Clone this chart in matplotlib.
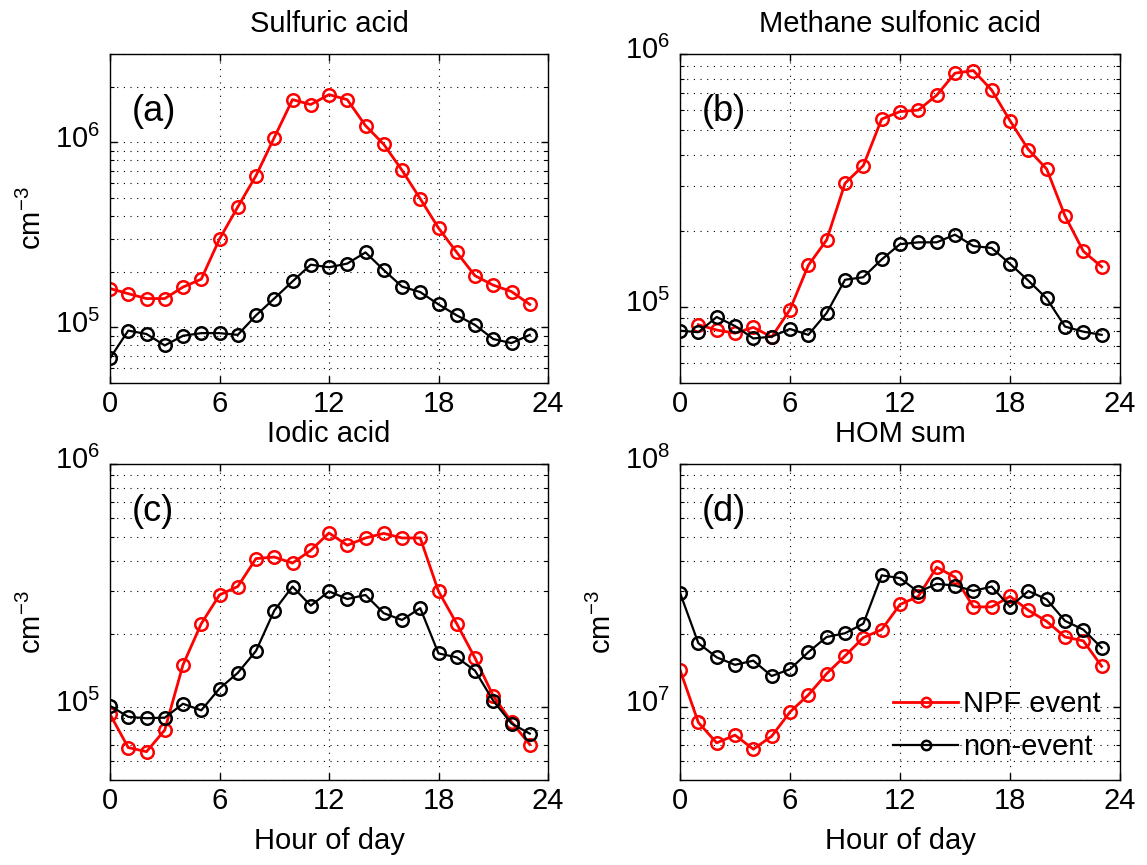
import numpy as np
import matplotlib
matplotlib.use('Agg')
import matplotlib.pyplot as plt
from matplotlib.ticker import LogLocator, NullFormatter
from matplotlib.transforms import ScaledTranslation

plt.rcParams['font.family'] = ['Liberation Sans', 'DejaVu Sans']
plt.rcParams['mathtext.fontset'] = 'custom'
plt.rcParams['mathtext.rm'] = 'Liberation Sans'
plt.rcParams['mathtext.it'] = 'Liberation Sans:italic'
plt.rcParams['mathtext.bf'] = 'Liberation Sans:bold'

# Hour of day
hours = np.arange(24)

# (a) Sulfuric acid
sa_npf = [1.62e5, 1.52e5, 1.43e5, 1.43e5, 1.65e5, 1.82e5, 3.0e5, 4.47e5, 6.6e5, 1.06e6, 1.70e6, 1.60e6,
          1.81e6, 1.70e6, 1.23e6, 9.75e5, 7.06e5, 4.95e5, 3.44e5, 2.54e5, 1.90e5, 1.69e5, 1.56e5, 1.33e5]
sa_non = [6.8e4, 9.6e4, 9.2e4, 7.98e4, 9.0e4, 9.3e4, 9.3e4, 9.1e4, 1.16e5, 1.43e5, 1.77e5, 2.18e5,
          2.11e5, 2.21e5, 2.54e5, 2.04e5, 1.66e5, 1.55e5, 1.33e5, 1.16e5, 1.03e5, 8.64e4, 8.22e4, 9.1e4]

# (b) Methane sulfonic acid
msa_npf = [np.nan, 8.5e4, 8.1e4, 7.87e4, 8.3e4, 7.6e4, 9.76e4, 1.46e5, 1.84e5, 3.08e5, 3.62e5, 5.53e5,
           5.92e5, 6.0e5, 6.87e5, 8.4e5, 8.6e5, 7.2e5, 5.45e5, 4.19e5, 3.51e5, 2.29e5, 1.66e5, 1.44e5]
msa_non = [8.05e4, 7.94e4, 9.12e4, 8.4e4, 7.5e4, 7.63e4, 8.18e4, 7.75e4, 9.46e4, 1.28e5, 1.31e5, 1.54e5,
           1.77e5, 1.80e5, 1.80e5, 1.93e5, 1.74e5, 1.71e5, 1.48e5, 1.27e5, 1.08e5, 8.36e4, 7.98e4, 7.75e4]

# (c) Iodic acid
ia_npf = [9.33e4, 6.8e4, 6.54e4, 8.03e4, 1.49e5, 2.20e5, 2.89e5, 3.13e5, 4.08e5, 4.14e5, 3.91e5, 4.41e5,
          5.2e5, 4.63e5, 4.96e5, 5.18e5, 4.96e5, 4.96e5, 2.99e5, 2.20e5, 1.59e5, 1.11e5, 8.67e4, 7.0e4]
ia_non = [1.01e5, 9.1e4, 8.98e4, 9.03e4, 1.03e5, 9.68e4, 1.19e5, 1.38e5, 1.70e5, 2.49e5, 3.13e5, 2.61e5,
          2.99e5, 2.78e5, 2.89e5, 2.43e5, 2.28e5, 2.55e5, 1.66e5, 1.60e5, 1.41e5, 1.06e5, 8.54e4, 7.76e4]

# (d) HOM sum
hom_npf = [1.42e7, 8.63e6, 7.11e6, 7.65e6, 6.7e6, 7.57e6, 9.53e6, 1.12e7, 1.37e7, 1.62e7, 1.93e7, 2.08e7,
           2.64e7, 2.85e7, 3.76e7, 3.42e7, 2.58e7, 2.58e7, 2.85e7, 2.50e7, 2.25e7, 1.94e7, 1.87e7, 1.47e7]
hom_non = [2.95e7, 1.83e7, 1.60e7, 1.49e7, 1.55e7, 1.34e7, 1.43e7, 1.68e7, 1.94e7, 2.01e7, 2.20e7, 3.48e7,
           3.39e7, 2.97e7, 3.21e7, 3.16e7, 3.0e7, 3.13e7, 2.58e7, 3.0e7, 2.77e7, 2.26e7, 2.08e7, 1.75e7]

titles = ['Sulfuric acid', 'Methane sulfonic acid', 'Iodic acid', 'HOM sum']
letters = ['(a)', '(b)', '(c)', '(d)']
ylims = [(5e4, 3e6), (5e4, 1e6), (5e4, 1e6), (5e6, 1e8)]
npf_data = [sa_npf, msa_npf, ia_npf, hom_npf]
non_data = [sa_non, msa_non, ia_non, hom_non]

W, H = 1147, 865
FS = 21
# axes boxes in pixels: left, top, right, bottom
boxes = [(110, 54, 548, 383), (680, 54, 1120, 383),
         (110, 464, 548, 780), (680, 464, 1120, 780)]

GRID = dict(color='k', linewidth=0.8, linestyle=(0, (1, 5)))


def style_axis(ax, ylim):
    ax.set_yscale('log')
    ax.set_xlim(0, 24)
    ax.set_ylim(*ylim)
    ax.set_xticks([0, 6, 12, 18, 24])
    ax.yaxis.set_major_locator(LogLocator(base=10, numticks=20))
    ax.yaxis.set_minor_locator(LogLocator(base=10, subs=np.arange(2, 10), numticks=20))
    ax.yaxis.set_minor_formatter(NullFormatter())
    ax.grid(True, which='major', axis='both', **GRID)
    ax.grid(True, which='minor', axis='y', **GRID)
    ax.set_axisbelow(True)
    ax.tick_params(which='both', direction='in', top=True, right=True, labelsize=FS)
    ax.tick_params(which='major', length=5, width=1)
    ax.tick_params(which='minor', length=3, width=0.8)
    ax.tick_params(axis='x', pad=5)
    ax.tick_params(axis='y', pad=7)
    for s in ax.spines.values():
        s.set_linewidth(1.0)


fig = plt.figure(figsize=(W / 100, H / 100), dpi=100)
axes = []
for i, (l, t, r, b) in enumerate(boxes):
    ax = fig.add_axes([l / W, 1 - b / H, (r - l) / W, (b - t) / H])
    style_axis(ax, ylims[i])
    ax.plot(hours, npf_data[i], '-o', color='red', lw=2.0, mfc='none', mec='red',
            ms=9, mew=1.8, label='NPF event')
    ax.plot(hours, non_data[i], '-o', color='black', lw=1.6, mfc='none', mec='black',
            ms=9, mew=1.8, label='non-event')
    ax.set_title(titles[i], fontsize=FS, pad=16)
    ty = 0.825 if i < 2 else 0.85
    ax.text(0.05, ty, letters[i], transform=ax.transAxes, fontsize=26, va='center', ha='left')
    if i in (0, 2, 3):
        ax.set_ylabel('cm$^{-3}$', fontsize=FS, labelpad=6)
    if i >= 2:
        ax.set_xlabel('Hour of day', fontsize=FS, labelpad=9)
    axes.append(ax)

axes[3].legend(loc='lower right', frameon=False, fontsize=FS, handlelength=2.2,
               handletextpad=0.2, labelspacing=0.5, borderaxespad=0.35, borderpad=0.3,
               markerscale=0.75, numpoints=1)

# lift the y tick labels so the "10" sits on the grid line, like the original
fig.canvas.draw()
lift = ScaledTranslation(0, 4.5 / 72, fig.dpi_scale_trans)
for ax in axes:
    for tick in ax.yaxis.get_major_ticks():
        tick.label1.set_transform(tick.label1.get_transform() + lift)

fig.savefig('out.png', dpi=100)
